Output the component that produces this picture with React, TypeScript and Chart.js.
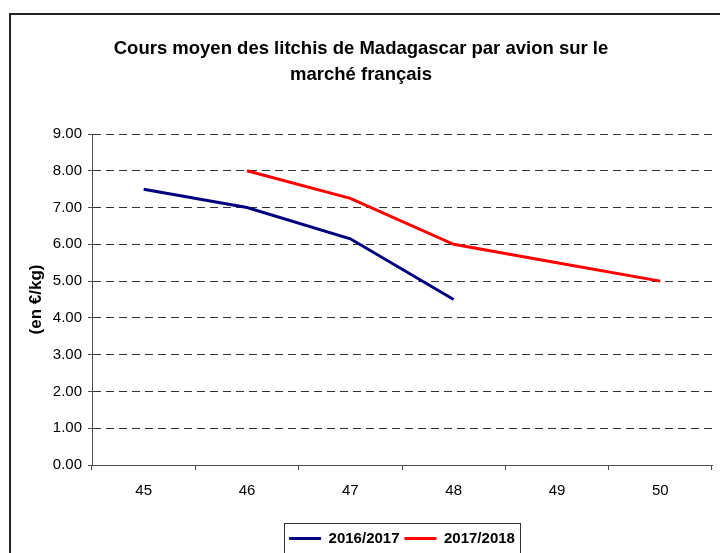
import React, { useEffect, useRef } from "react";
import { Chart, registerables } from "chart.js";

Chart.register(...registerables);

const weeks = ["45", "46", "47", "48", "49", "50"];
const season1617 = [7.5, 7.0, 6.15, 4.5, null, null];
const season1718 = [null, 8.0, 7.25, 6.0, 5.5, 5.0];
const seriesLabels = ["2016/2017", "2017/2018"];
const titleLines = ["Cours moyen des litchis de Madagascar par avion sur le", "marché français"];
const yTitle = "(en €/kg)";

const FONT = "'Liberation Sans', Arial, Helvetica, sans-serif";

const framePlugin = {
  id: "frame",
  beforeDraw(chart: any) {
    const { ctx, width, height } = chart;
    ctx.save();
    ctx.fillStyle = "#ffffff";
    ctx.fillRect(0, 0, width, height);
    ctx.strokeStyle = "#222222";
    ctx.lineWidth = 2;
    ctx.strokeRect(10, 14, width + 20, height + 20);
    ctx.restore();
  },
  afterDraw(chart: any) {
    const lg = chart.legend;
    if (!lg || !lg.legendHitBoxes || !lg.legendHitBoxes.length) return;
    const boxes = lg.legendHitBoxes;
    let l = Infinity, r = -Infinity, t = Infinity, b = -Infinity;
    for (const hb of boxes) {
      l = Math.min(l, hb.left);
      r = Math.max(r, hb.left + hb.width);
      t = Math.min(t, hb.top);
      b = Math.max(b, hb.top + hb.height);
    }
    const cy = (t + b) / 2;
    const { ctx } = chart;
    ctx.save();
    ctx.strokeStyle = "#333333";
    ctx.lineWidth = 1;
    ctx.strokeRect(Math.round(l - 5) + 0.5, Math.round(cy - 16) + 0.5, Math.round(r - l + 10), 60);
    ctx.restore();
  },
};

export default function App() {
  const ref = useRef<HTMLCanvasElement | null>(null);
  useEffect(() => {
    if (!ref.current) return;
    const chart = new Chart(ref.current, {
      type: "line",
      data: {
        labels: weeks,
        datasets: [
          {
            label: seriesLabels[0],
            data: season1617,
            borderColor: "#000080",
            backgroundColor: "#000080",
            borderWidth: 3,
            pointRadius: 0,
            tension: 0,
          },
          {
            label: seriesLabels[1],
            data: season1718,
            borderColor: "#ff0000",
            backgroundColor: "#ff0000",
            borderWidth: 3,
            pointRadius: 0,
            tension: 0,
          },
        ],
      },
      options: {
        responsive: false,
        animation: false,
        layout: { padding: { left: 10, top: 14, right: 8, bottom: -3 } },
        plugins: {
          title: {
            display: true,
            text: titleLines,
            color: "#000",
            font: { family: FONT, size: 18.5, weight: "bold", lineHeight: 26 / 18.5 },
            padding: { top: 22, bottom: 46 },
          },
          legend: {
            display: true,
            position: "bottom",
            fullSize: false,
            labels: {
              color: "#000",
              font: { family: FONT, size: 15, weight: "bold" },
              boxWidth: 32,
              boxHeight: 3,
              padding: 5,
              generateLabels: (c: any) =>
                Chart.defaults.plugins.legend.labels.generateLabels(c).map((it: any) => ({ ...it, lineWidth: 0 })),
            },
          },
          tooltip: { enabled: false },
        },
        scales: {
          x: {
            offset: true,
            grid: {
              display: true,
              drawOnChartArea: false,
              drawTicks: true,
              tickLength: 5,
              color: "#4d4d4d",
              offset: true,
            },
            border: { display: true, color: "#4d4d4d", width: 1 },
            ticks: { color: "#000", font: { family: FONT, size: 15 }, padding: 12, maxRotation: 0 },
            afterFit: (s: any) => {
              s.height = 61;
            },
          },
          y: {
            min: 0,
            max: 9,
            ticks: {
              stepSize: 1,
              color: "#000",
              font: { family: FONT, size: 15 },
              padding: 6,
              callback: (v: any) => Number(v).toFixed(2),
            },
            grid: {
              color: "#333333",
              lineWidth: 1,
              tickLength: 4,
              tickColor: "#4d4d4d",
              tickBorderDash: [],
            },
            border: { display: true, color: "#4d4d4d", width: 1, dash: [8, 5] },
            title: {
              display: true,
              text: yTitle,
              color: "#000",
              font: { family: FONT, size: 17, weight: "bold" },
              padding: { top: 16, bottom: 0 },
            },
            afterFit: (s: any) => {
              s.width = 82;
            },
          },
        },
      },
      plugins: [framePlugin],
    } as any);
    return () => chart.destroy();
  }, []);
  return (
    <div style={{ position: "absolute", left: 0, top: 0, width: 720, height: 553, overflow: "hidden" }}>
      <canvas ref={ref} width={720} height={553} style={{ width: 720, height: 553, display: "block" }} />
    </div>
  );
}
